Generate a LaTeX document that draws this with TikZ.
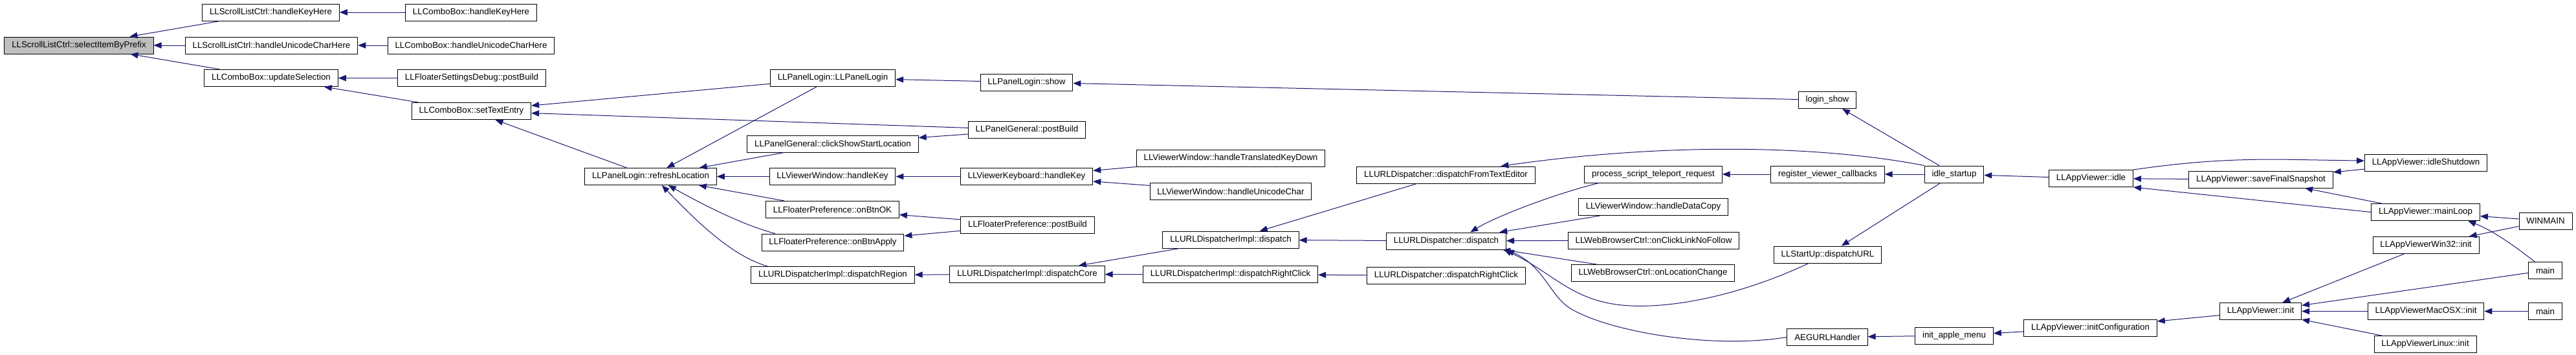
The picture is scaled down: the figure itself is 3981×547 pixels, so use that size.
\documentclass[tikz,border=0pt]{standalone}
\usepackage{fontspec}
\setmainfont{Liberation Sans}
\usetikzlibrary{arrows.meta}
\definecolor{edgeblue}{HTML}{191970}
\definecolor{focusgrey}{HTML}{BFBFBF}
\begin{document}
\begin{tikzpicture}[x=0.75pt,y=-0.75pt,
  func/.style={draw=black,line width=0.75pt,font=\fontsize{10}{12}\selectfont,inner xsep=8.5pt,inner ysep=2pt,minimum height=19.5pt},
  focus/.style={func,fill=focusgrey},
  call/.style={draw=edgeblue,line width=0.75pt,-{Triangle[length=9pt,width=7pt]}}]
\useasboundingbox (0,0) rectangle (3981,547);
% draw the function and its callers
\node[focus] (sel) at (122,70) {LLScrollListCtrl::selectItemByPrefix};
\node[func] (slkey) at (418.5,19) {LLScrollListCtrl::handleKeyHere};
\node[func] (sluni) at (419.5,70) {LLScrollListCtrl::handleUnicodeCharHere};
\node[func] (cbupd) at (419,120.5) {LLComboBox::updateSelection};
\node[func] (cbkey) at (728,19) {LLComboBox::handleKeyHere};
\node[func] (cbuni) at (728,70) {LLComboBox::handleUnicodeCharHere};
\node[func] (fsdpb) at (729,120.5) {LLFloaterSettingsDebug::postBuild};
\node[func] (cbset) at (728.5,171.5) {LLComboBox::setTextEntry};
\node[func] (plref) at (1005.5,272.5) {LLPanelLogin::refreshLocation};
\node[func] (plctor) at (1287,120.5) {LLPanelLogin::LLPanelLogin};
\node[func] (pgclick) at (1287,222) {LLPanelGeneral::clickShowStartLocation};
\node[func] (vwkey) at (1286.5,272.5) {LLViewerWindow::handleKey};
\node[func] (fpok) at (1286.5,323.5) {LLFloaterPreference::onBtnOK};
\node[func] (fpapply) at (1287,374) {LLFloaterPreference::onBtnApply};
\node[func] (udregion) at (1287,424.5) {LLURLDispatcherImpl::dispatchRegion};
\node[func] (plshow) at (1586.5,127) {LLPanelLogin::show};
\node[func] (pgpb) at (1587,200.5) {LLPanelGeneral::postBuild};
\node[func] (vkkey) at (1586.5,272.5) {LLViewerKeyboard::handleKey};
\node[func] (fppb) at (1588,347) {LLFloaterPreference::postBuild};
\node[func] (udcore) at (1587.5,423.5) {LLURLDispatcherImpl::dispatchCore};
\node[func] (vwtrans) at (1902,244.5) {LLViewerWindow::handleTranslatedKeyDown};
\node[func] (vwuni) at (1902,295.5) {LLViewerWindow::handleUnicodeChar};
\node[func] (udimpl) at (1902,370) {LLURLDispatcherImpl::dispatch};
\node[func] (udrc) at (1901.5,423.5) {LLURLDispatcherImpl::dispatchRightClick};
\node[func] (udtext) at (2234.5,270) {LLURLDispatcher::dispatchFromTextEditor};
\node[func] (uddisp) at (2235,372) {LLURLDispatcher::dispatch};
\node[func] (udrc2) at (2235,425.5) {LLURLDispatcher::dispatchRightClick};
\node[func] (pstr) at (2555,269) {process\_script\_teleport\_request};
\node[func] (vwcopy) at (2555,319.5) {LLViewerWindow::handleDataCopy};
\node[func] (wbnofollow) at (2555.5,371) {LLWebBrowserCtrl::onClickLinkNoFollow};
\node[func] (wbloc) at (2554.5,421.5) {LLWebBrowserCtrl::onLocationChange};
\node[func] (loginshow) at (2824,154.5) {login\_show};
\node[func] (regcb) at (2824.5,269) {register\_viewer\_callbacks};
\node[func] (sudisp) at (2824.5,393) {LLStartUp::dispatchURL};
\node[func] (aeg) at (2824,520.5) {AEGURLHandler};
\node[func] (idlest) at (3020,269) {idle\_startup};
\node[func] (applemenu) at (3020,518) {init\_apple\_menu};
\node[func] (avidle) at (3231.5,275.5) {LLAppViewer::idle};
\node[func] (avinitcfg) at (3230.5,506) {LLAppViewer::initConfiguration};
\node[func] (avsave) at (3494,277) {LLAppViewer::saveFinalSnapshot};
\node[func] (avinit) at (3493.5,480.5) {LLAppViewer::init};
\node[func] (avshut) at (3749,251.5) {LLAppViewer::idleShutdown};
\node[func] (avloop) at (3748.5,327.5) {LLAppViewer::mainLoop};
\node[func] (avwin) at (3749,378.5) {LLAppViewerWin32::init};
\node[func] (avmac) at (3749,480.5) {LLAppViewerMacOSX::init};
\node[func] (avlinux) at (3748,531.5) {LLAppViewerLinux::init};
\node[func] (winmain) at (3934,341) {WINMAIN};
\node[func] (maina) at (3933.5,417.5) {main};
\node[func] (mainb) at (3933.5,480.5) {main};
% draw the calls, arrow on the callee
\draw[call] (slkey) -- (sel);
\draw[call] (sluni) -- (sel);
\draw[call] (cbupd) -- (sel);
\draw[call] (cbkey) -- (slkey);
\draw[call] (cbuni) -- (sluni);
\draw[call] (fsdpb) -- (cbupd);
\draw[call] (cbset) -- (cbupd);
\draw[call] (plctor) -- (cbset);
\draw[call] (pgpb) -- (cbset);
\draw[call] (plref) -- (cbset);
\draw[call] (plctor) -- (plref);
\draw[call] (pgclick) -- (plref);
\draw[call] (vwkey) -- (plref);
\draw[call] (fpok) -- (plref);
\draw[call] ([xshift=16pt]fpapply.north west) .. controls (1150,348) and (1090,318) .. ([xshift=20.5pt]plref.south);
\draw[call] ([xshift=19.5pt]udregion.north west) .. controls (1130,395) and (1075,340) .. ([xshift=13pt]plref.south);
\draw[call] (plshow) -- (plctor);
\draw[call] (pgpb) -- (pgclick);
\draw[call] (vkkey) -- (vwkey);
\draw[call] (vwtrans) -- (vkkey);
\draw[call] (vwuni) -- (vkkey);
\draw[call] (fppb) -- (fpok);
\draw[call] (fppb) -- (fpapply);
\draw[call] (udcore) -- (udregion);
\draw[call] (udimpl) -- (udcore);
\draw[call] (udrc) -- (udcore);
\draw[call] (udtext) -- (udimpl);
\draw[call] (uddisp) -- (udimpl);
\draw[call] (udrc2) -- (udrc);
\draw[call] (loginshow) -- (plshow);
\draw[call] (idlest.north west) .. controls (2800,222) and (2560,222) .. ([xshift=-40pt]udtext.north east);
\draw[call] ([xshift=17pt]pstr.south west) .. controls (2400,300) and (2310,335) .. ([xshift=28pt]uddisp.north);
\draw[call] (vwcopy) -- (uddisp);
\draw[call] (wbnofollow) -- (uddisp);
\draw[call] (wbloc) -- (uddisp);
\draw[call] ([xshift=-22pt]sudisp.south) .. controls (2680,460) and (2580,475) .. (2520,472) .. controls (2430,468) and (2400,420) .. ([xshift=-3pt]uddisp.south east);
\draw[call] (aeg.west) .. controls (2640,540) and (2480,510) .. (2425,475) .. controls (2395,455) and (2385,410) .. (uddisp.south east);
\draw[call] (regcb) -- (pstr);
\draw[call] (idlest) -- (regcb);
\draw[call] (idlest) -- (loginshow);
\draw[call] (idlest) -- (sudisp);
\draw[call] (avidle) -- (idlest);
\draw[call] (avidle.north east) .. controls (3380,250) and (3440,246) .. (3520,246) -- ([yshift=2.5pt]avshut.west);
\draw[call] (avsave) -- (avidle);
\draw[call] (avloop.west) -- (avidle.south east);
\draw[call] (avshut) -- (avsave);
\draw[call] (avloop) -- (avsave);
\draw[call] (winmain) -- (avloop);
\draw[call] ([xshift=7.5pt]maina.north west) .. controls (3880,375) and (3850,355) .. ([xshift=-14pt]avloop.south east);
\draw[call] (winmain) -- (avwin);
\draw[call] (avwin) -- (avinit);
\draw[call] (maina) -- (avinit);
\draw[call] (avmac) -- (avinit);
\draw[call] (avlinux) -- (avinit);
\draw[call] (mainb) -- (avmac);
\draw[call] (avinit) -- (avinitcfg);
\draw[call] (avinitcfg) -- (applemenu);
\draw[call] (applemenu) -- (aeg);
\end{tikzpicture}
\end{document}
